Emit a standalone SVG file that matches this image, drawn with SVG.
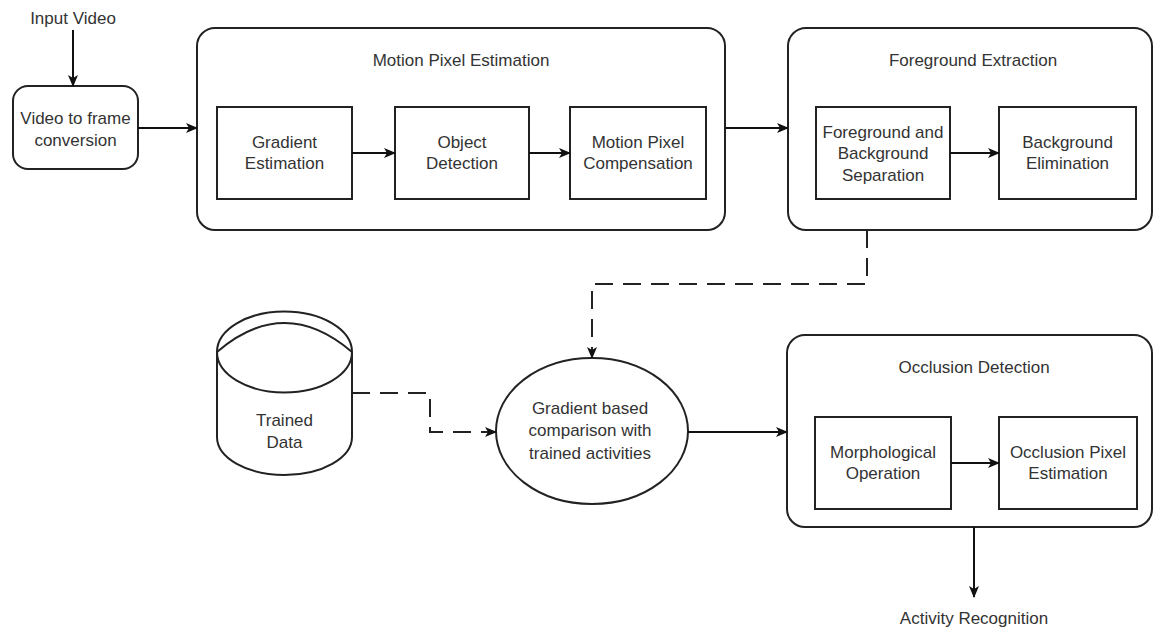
<svg xmlns="http://www.w3.org/2000/svg" width="1154" height="630" viewBox="0 0 1154 630">
<defs>
<marker id="arr" viewBox="0 0 12 10" refX="11" refY="5" markerWidth="12" markerHeight="10" markerUnits="userSpaceOnUse" orient="auto">
<path d="M0,0 L12,5 L0,10 L3,5 Z" fill="#111"/>
</marker>
</defs>
<style>
.box{fill:#fff;stroke:#222;stroke-width:2}
.ln{fill:none;stroke:#111;stroke-width:2}
.dash{fill:none;stroke:#222;stroke-width:2;stroke-dasharray:18 10}
text{font-family:"Liberation Sans",Arial,sans-serif;font-size:17px;fill:#333;text-anchor:middle}
</style>
<rect width="1154" height="630" fill="#fff"/>

<g id="input-video"><text x="73" y="24">Input Video</text></g>

<g id="video-to-frame">
<rect class="box" x="13" y="86" width="125" height="83" rx="15"/>
<text x="75.5" y="124">Video to frame</text>
<text x="75.5" y="146">conversion</text>
</g>

<g id="motion-pixel-estimation">
<rect class="box" x="197" y="28" width="528" height="202" rx="18"/>
<text x="461" y="66">Motion Pixel Estimation</text>
</g>
<g id="gradient-estimation">
<rect class="box" x="217" y="107" width="135" height="92"/>
<text x="284.5" y="148">Gradient</text>
<text x="284.5" y="169">Estimation</text>
</g>
<g id="object-detection">
<rect class="box" x="395" y="107" width="134" height="92"/>
<text x="462" y="148">Object</text>
<text x="462" y="169">Detection</text>
</g>
<g id="motion-pixel-compensation">
<rect class="box" x="570" y="107" width="136" height="92"/>
<text x="638" y="148">Motion Pixel</text>
<text x="638" y="169">Compensation</text>
</g>

<g id="foreground-extraction">
<rect class="box" x="788" y="28" width="364" height="202" rx="18"/>
<text x="973" y="66">Foreground Extraction</text>
</g>
<g id="fg-bg-separation">
<rect class="box" x="816" y="107" width="134" height="92"/>
<text x="883" y="138">Foreground and</text>
<text x="883" y="159">Background</text>
<text x="883" y="181">Separation</text>
</g>
<g id="background-elimination">
<rect class="box" x="999" y="107" width="137" height="92"/>
<text x="1067.5" y="148">Background</text>
<text x="1067.5" y="169">Elimination</text>
</g>

<g id="trained-data">
<path class="box" d="M217,352 A67.5,40.5 0 0 1 352,352 L352,437 A67.5,38 0 0 1 217,437 Z"/>
<path class="ln" style="stroke:#222" d="M217,352 A67.5,40.5 0 0 0 352,352"/>
<path class="ln" style="stroke:#222" d="M217,352 Q284.5,294 352,352"/>
<text x="284.5" y="426">Trained</text>
<text x="284.5" y="448">Data</text>
</g>

<g id="gradient-comparison">
<ellipse class="box" cx="592" cy="431" rx="96" ry="73"/>
<text x="590" y="414">Gradient based</text>
<text x="590" y="436">comparison with</text>
<text x="590" y="459">trained activities</text>
</g>

<g id="occlusion-detection">
<rect class="box" x="787" y="335" width="365" height="192" rx="18"/>
<text x="974" y="373">Occlusion Detection</text>
</g>
<g id="morphological-operation">
<rect class="box" x="815" y="417" width="136" height="92"/>
<text x="883" y="458">Morphological</text>
<text x="883" y="479">Operation</text>
</g>
<g id="occlusion-pixel-estimation">
<rect class="box" x="999" y="417" width="138" height="92"/>
<text x="1068" y="458">Occlusion Pixel</text>
<text x="1068" y="479">Estimation</text>
</g>

<g id="activity-recognition"><text x="974" y="624">Activity Recognition</text></g>

<g id="connectors">
<path class="ln" d="M73,30 L73,86" marker-end="url(#arr)"/>
<path class="ln" d="M138,128 L197,128" marker-end="url(#arr)"/>
<path class="ln" d="M352,153 L395,153" marker-end="url(#arr)"/>
<path class="ln" d="M529,153 L570,153" marker-end="url(#arr)"/>
<path class="ln" d="M725,128 L788,128" marker-end="url(#arr)"/>
<path class="ln" d="M950,153 L999,153" marker-end="url(#arr)"/>
<path class="dash" d="M867,230 L867,284 L592,284 L592,358" marker-end="url(#arr)"/>
<path class="dash" d="M352,393 L430,393 L430,432 L496,432" marker-end="url(#arr)"/>
<path class="ln" d="M688,432 L787,432" marker-end="url(#arr)"/>
<path class="ln" d="M951,463 L999,463" marker-end="url(#arr)"/>
<path class="ln" d="M974,527 L974,597" marker-end="url(#arr)"/>
</g>
</svg>
